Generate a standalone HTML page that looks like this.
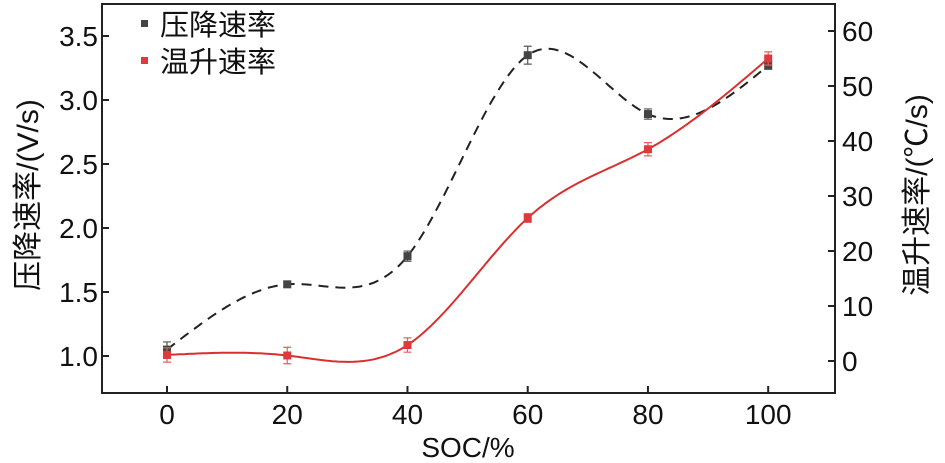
<!DOCTYPE html>
<html><head><meta charset="utf-8"><style>
body{margin:0;background:#fff}
svg{display:block;font-family:"Liberation Sans","Noto Sans CJK SC",sans-serif}
</style></head><body>
<svg id="chart" width="945" height="463" viewBox="0 0 945 463"></svg>
<script>
const categories=[0,20,40,60,80,100];
const pressureRate=[1.05,1.56,1.78,3.35,2.89,3.27];
const pressureErr=[0.06,0.02,0.04,0.07,0.04,0.03];
const tempRate=[1.1,1.0,2.9,26,38.5,55];
const tempErr=[1.3,1.5,1.3,0.8,1.2,1.2];
const xTicks=[0,20,40,60,80,100];
const yLeftTicks=[1.0,1.5,2.0,2.5,3.0,3.5];
const yRightTicks=[0,10,20,30,40,50,60];
const L=102,R=835,T=4,B=393;
const xs=v=>167+(v-0)*6.012;
const yl=v=>356-(v-1)*128;
const yr=v=>361-v*5.5;
const svg=document.getElementById('chart');
const NS='http://www.w3.org/2000/svg';
function mk(tag,attrs,parent){const e=document.createElementNS(NS,tag);for(const k in attrs)e.setAttribute(k,attrs[k]);(parent||svg).appendChild(e);return e;}
function spline(xv,yv){const n=xv.length,h=[],a=[],l=[1],mu=[0],z=[0],c=new Array(n).fill(0),b=[],d=[];
for(let i=0;i<n-1;i++)h.push(xv[i+1]-xv[i]);
for(let i=1;i<n-1;i++)a[i]=3/h[i]*(yv[i+1]-yv[i])-3/h[i-1]*(yv[i]-yv[i-1]);
for(let i=1;i<n-1;i++){l[i]=2*(xv[i+1]-xv[i-1])-h[i-1]*mu[i-1];mu[i]=h[i]/l[i];z[i]=(a[i]-h[i-1]*z[i-1])/l[i];}
l[n-1]=1;z[n-1]=0;
for(let j=n-2;j>=0;j--){c[j]=z[j]-mu[j]*c[j+1];b[j]=(yv[j+1]-yv[j])/h[j]-h[j]*(c[j+1]+2*c[j])/3;d[j]=(c[j+1]-c[j])/(3*h[j]);}
return x=>{let j=Math.min(n-2,Math.max(0,xv.findIndex((v,i)=>x>=v&&x<=xv[i+1])));const t=x-xv[j];return yv[j]+b[j]*t+c[j]*t*t+d[j]*t*t*t;};}
function curve(vals,ys,style,name){const f=spline(categories,vals);let p='';
for(let x=0;x<=100;x+=0.5){p+=(x?'L':'M')+xs(x).toFixed(1)+','+ys(f(x)).toFixed(1);}
const e=mk('path',Object.assign({d:p,fill:'none'},style));
}
curve(pressureRate,yl,{stroke:'#222','stroke-width':2,'stroke-dasharray':'10,7'},'pressure-curve');
curve(tempRate,yr,{stroke:'#d9302f','stroke-width':2},'temp-curve');
function pts(vals,errs,ys,col,ecol,name){categories.forEach((c,i)=>{const x=xs(c),y=ys(vals[i]),y1=ys(vals[i]+errs[i]),y2=ys(vals[i]-errs[i]);
const g=mk('g',{});
mk('path',{d:`M${x},${y1}V${y2}M${x-4},${y1}H${x+4}M${x-4},${y2}H${x+4}`,stroke:ecol,'stroke-width':1.2,fill:'none'},g);
mk('rect',{x:x-4,y:y-4,width:8,height:8,fill:col},g);});}
pts(pressureRate,pressureErr,yl,'#444','#555','pressure-point');
pts(tempRate,tempErr,yr,'#e0393b','#e06060','temp-point');
const ax=mk('rect',{x:L,y:T,width:R-L,height:B-T,fill:'none',stroke:'#222','stroke-width':2});

xTicks.forEach(v=>{mk('line',{x1:xs(v),x2:xs(v),y1:B,y2:B-7,stroke:'#222','stroke-width':2});
const t=mk('text',{x:xs(v),y:424,'text-anchor':'middle','font-size':28,fill:'#111'});t.textContent=v;
});
yLeftTicks.forEach(v=>{mk('line',{x1:L,x2:L+7,y1:yl(v),y2:yl(v),stroke:'#222','stroke-width':2});
const t=mk('text',{x:98,y:yl(v)+10,'text-anchor':'end','font-size':28,fill:'#111'});t.textContent=v.toFixed(1);
});
yRightTicks.forEach(v=>{mk('line',{x1:R,x2:R-7,y1:yr(v),y2:yr(v),stroke:'#222','stroke-width':2});
const t=mk('text',{x:842,y:yr(v)+10,'text-anchor':'start','font-size':28,fill:'#111'});t.textContent=v;
});
</script>
<svg style="position:absolute;left:0;top:0" width="945" height="463" font-family="Liberation Sans,Noto Sans CJK SC,sans-serif">
<text x="468" y="457" text-anchor="middle" font-size="28" fill="#111">SOC/%</text>
<text transform="translate(38,195) rotate(-90)" text-anchor="middle" font-size="30" fill="#111">压降速率/(V/s)</text>
<text transform="translate(927,195) rotate(-90)" text-anchor="middle" font-size="30" fill="#111">温升速率/(℃/s)</text>
<g>
<rect x="141" y="20" width="7" height="7" fill="#444"/>
<text x="160" y="35" font-size="29" fill="#111">压降速率</text>
<rect x="141" y="57" width="7" height="7" fill="#e0393b"/>
<text x="160" y="72" font-size="29" fill="#111">温升速率</text>
</g>
</svg>
</body></html>
